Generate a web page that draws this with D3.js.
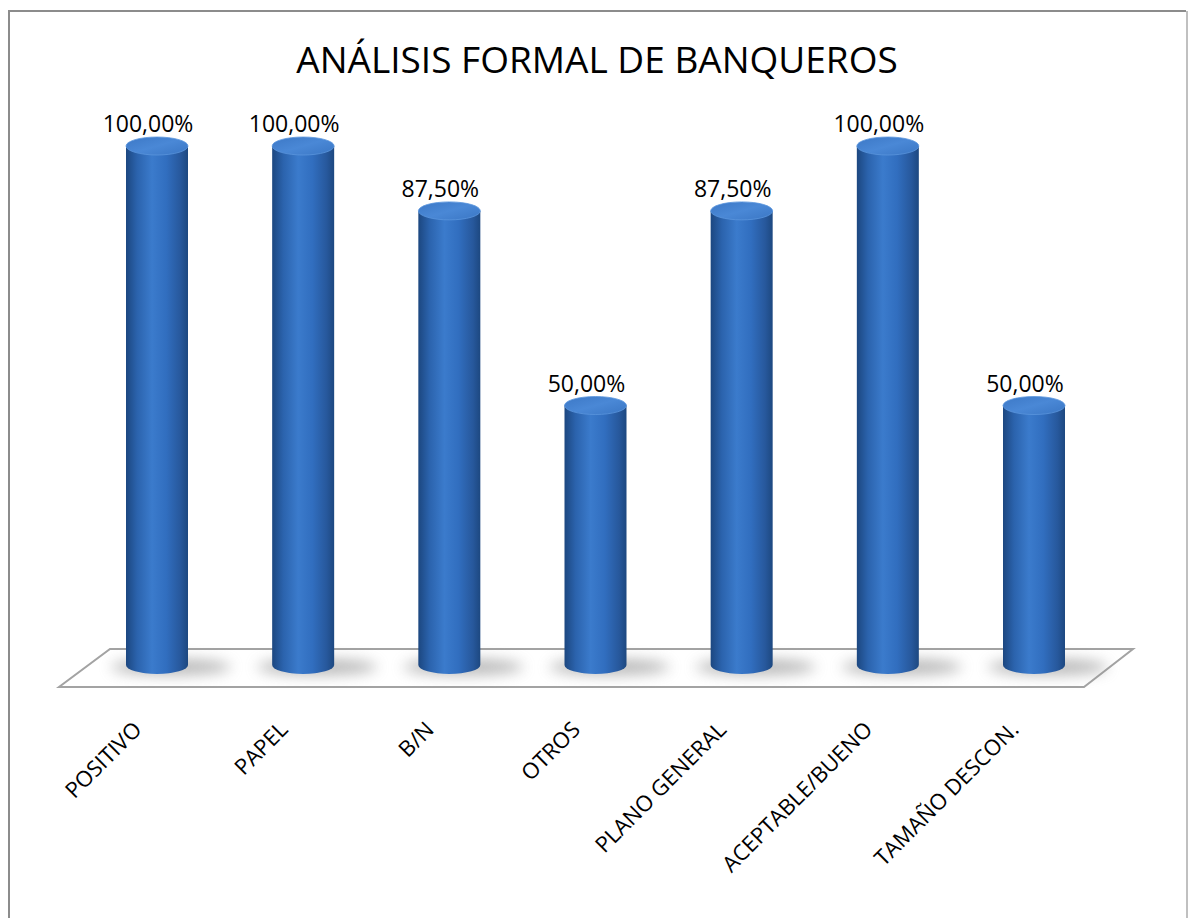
<!DOCTYPE html>
<html>
<head>
<meta charset="utf-8">
<style>
  body { margin: 0; background: #fff; }
  text { font-family: "Open Sans", "Noto Sans", sans-serif; fill: #000; }
</style>
</head>
<body>
<div class="chart"></div>
<script src="https://d3js.org/d3.v7.min.js"></script>
<script>
  // datos
  const categorias = ["POSITIVO", "PAPEL", "B/N", "OTROS", "PLANO GENERAL", "ACEPTABLE/BUENO", "TAMAÑO DESCON."];
  const valores = [1.0, 1.0, 0.875, 0.5, 0.875, 1.0, 0.5];
  const titulo = "ANÁLISIS FORMAL DE BANQUEROS";

  function dibujar(){
    let width = 1188,
        height = 918;

    const svg = d3.select(".chart")
                  .append("svg")
                  .attr("width", width)
                  .attr("height", height);

    const defs = svg.append("defs");

    // degradado del cuerpo del cilindro
    const body = defs.append("linearGradient")
                     .attr("id", "cuerpo")
                     .attr("x1", "0").attr("x2", "1").attr("y1", "0").attr("y2", "0");
    [["0%", "#1c4780"], ["18%", "#2b63ad"], ["42%", "#3b7bcc"], ["65%", "#316ebf"], ["88%", "#27589c"], ["100%", "#1d4880"]]
      .forEach(s => body.append("stop").attr("offset", s[0]).attr("stop-color", s[1]));

    const tapa = defs.append("linearGradient")
                     .attr("id", "tapa")
                     .attr("x1", "0").attr("x2", "1").attr("y1", "0").attr("y2", "1");
    [["0%", "#3c78c6"], ["50%", "#4a88d6"], ["100%", "#3a76c4"]]
      .forEach(s => tapa.append("stop").attr("offset", s[0]).attr("stop-color", s[1]));

    defs.append("filter").attr("id", "blur")
        .attr("x", "-50%").attr("y", "-100%").attr("width", "200%").attr("height", "300%")
        .append("feGaussianBlur").attr("stdDeviation", 7);

    // marco
    svg.append("path")
       .attr("d", "M9,918 L9,11 L1186,11")
       .attr("fill", "none")
       .attr("stroke", "#8c8c8c")
       .attr("stroke-width", 2);
    svg.append("line")
       .attr("x1", 1187).attr("x2", 1187).attr("y1", 11).attr("y2", 918)
       .attr("stroke", "#c0c0c0").attr("stroke-width", 2);

    // titulo
    svg.append("text")
       .attr("x", 597)
       .attr("y", 73)
       .attr("text-anchor", "middle")
       .style("font-size", "37px")
       .text(titulo);

    // suelo
    svg.append("polygon")
       .attr("points", "59,687 1084,687 1133,649 110,649")
       .attr("fill", "#fff")
       .attr("stroke", "#a3a3a3")
       .attr("stroke-width", 2);

    const xScale = d3.scalePoint()
                     .domain(categorias)
                     .range([157, 1034]);

    const yScale = d3.scaleLinear()
                     .domain([0, 1])
                     .range([665, 146]);

    const rx = 31, ry = 9;

    const fmt = d3.formatLocale({decimal: ",", thousands: ".", grouping: [3], currency: ["", "€"]}).format(".2%");

    const barras = svg.append("g")
                      .selectAll("g")
                      .data(categorias)
                      .join("g");

    // sombra
    barras.append("ellipse")
          .attr("cx", d => xScale(d) + 14)
          .attr("cy", 667)
          .attr("rx", 60)
          .attr("ry", 8)
          .attr("fill", "#8a8a8a")
          .attr("opacity", 0.6)
          .attr("filter", "url(#blur)");

    barras.append("path")
          .attr("d", (d, i) => {
            let x = xScale(d), top = yScale(valores[i]), bot = yScale(0);
            return `M${x - rx},${top} L${x - rx},${bot} A${rx},${ry} 0 0 0 ${x + rx},${bot} L${x + rx},${top} Z`;
          })
          .attr("fill", "url(#cuerpo)");

    barras.append("ellipse")
          .attr("cx", d => xScale(d))
          .attr("cy", (d, i) => yScale(valores[i]))
          .attr("rx", rx)
          .attr("ry", ry)
          .attr("fill", "url(#tapa)")
          .attr("stroke", "#5b95dd")
          .attr("stroke-width", 0.8);

    // etiquetas de valor
    barras.append("text")
          .attr("x", d => xScale(d) - 9)
          .attr("y", (d, i) => yScale(valores[i]) - 14)
          .attr("text-anchor", "middle")
          .style("font-size", "23px")
          .text((d, i) => fmt(valores[i]));

    // etiquetas de categoria
    svg.append("g")
       .selectAll("text")
       .data(categorias)
       .join("text")
       .attr("transform", d => `translate(${xScale(d) - 14}, 731) rotate(-45)`)
       .attr("text-anchor", "end")
       .style("font-size", "22px")
       .text(d => d);
  }
  dibujar()
</script>
</body>
</html>
